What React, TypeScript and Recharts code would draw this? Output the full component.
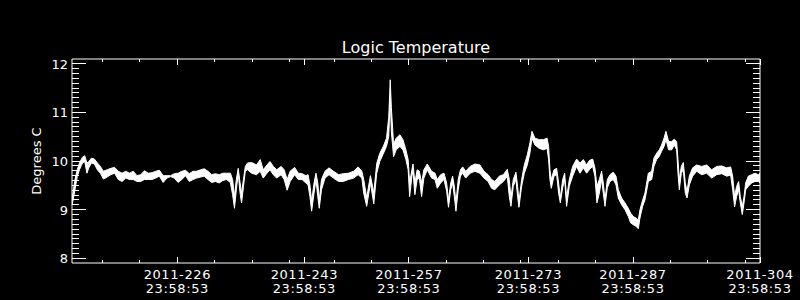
import { AreaChart, Area, XAxis, YAxis } from 'recharts'

// day of year 2011 (fractional) and the low/high envelope of the noisy trace
const DAYS = [
  211.92, 212.3, 212.6, 212.9, 213.3, 213.6, 213.9, 214.15, 214.5, 214.9,
  215.3, 215.7, 216.1, 216.6, 217.1, 217.6, 218.1, 218.6, 219.1, 219.6,
  220.1, 220.6, 221.1, 221.6, 222.1, 222.6, 223.1, 223.6, 224.1, 224.6,
  225.1, 225.6, 226.1, 226.6, 227.1, 227.6, 228.1, 228.6, 229.1, 229.6,
  230.1, 230.6, 231.1, 231.6, 232.1, 232.6, 233.1, 233.4, 233.65, 233.9,
  234.15, 234.4, 234.6, 234.85, 235.1, 235.4, 235.95, 236.6, 237.1, 237.5,
  238.0, 238.4, 238.85, 239.3, 239.9, 240.3, 240.7, 241.1, 241.7, 242.2,
  242.7, 243.2, 243.5, 243.75, 243.98, 244.3, 244.56, 244.8, 245.0, 245.3,
  245.77, 246.3, 246.9, 247.6, 248.2, 248.9, 249.6, 250.2, 250.7, 250.95,
  251.35, 251.85, 252.3, 252.69, 253.1, 253.6, 254.0, 254.3, 254.5, 254.65,
  254.95, 255.3, 255.8, 256.2, 256.6, 256.9, 257.1, 257.4, 257.55, 257.8,
  258.1, 258.4, 258.7, 259.0, 259.46, 260.04, 260.5, 260.8, 261.25, 261.7,
  262.05, 262.3, 262.6, 262.85, 263.08, 263.3, 263.6, 263.9, 264.2, 264.6,
  265.2, 265.84, 266.5, 267.05, 267.6, 268.07, 268.5, 269.1, 269.64, 270.17,
  270.44, 270.66, 270.97, 271.33, 271.55, 271.73, 272.09, 272.45, 272.85, 273.2,
  273.47, 273.87, 274.45, 274.99, 275.5, 275.7, 275.88, 276.06, 276.42, 276.78,
  277.04, 277.27, 277.58, 277.85, 278.11, 278.47, 278.92, 279.45, 279.9, 280.35,
  280.79, 281.15, 281.6, 281.9, 282.17, 282.49, 282.8, 283.02, 283.25, 283.56,
  283.92, 284.36, 284.72, 285.03, 285.48, 285.93, 286.37, 286.68, 287.04, 287.4,
  287.71, 287.93, 288.29, 288.6, 289.05, 289.5, 289.8, 290.16, 290.52, 290.83,
  291.15, 291.41, 291.77, 292.17, 292.53, 292.84, 293.02, 293.2, 293.47, 293.73,
  294.0, 294.23, 294.54, 294.98, 295.52, 296.19, 296.86, 297.53, 298.2, 298.87,
  299.54, 300.07, 300.34, 300.6, 300.87, 301.14, 301.36, 301.63, 301.86, 302.08,
  302.44, 302.88, 303.33, 303.77, 304.0,
]

const LO = [
  9.10, 9.41, 9.68, 9.82, 9.96, 9.99, 9.75, 9.86, 9.96, 9.94,
  9.82, 9.75, 9.63, 9.67, 9.72, 9.75, 9.62, 9.58, 9.65, 9.62,
  9.62, 9.58, 9.58, 9.62, 9.62, 9.62, 9.65, 9.69, 9.56, 9.65,
  9.68, 9.65, 9.56, 9.62, 9.70, 9.58, 9.62, 9.65, 9.67, 9.69,
  9.62, 9.56, 9.58, 9.55, 9.60, 9.62, 9.56, 9.31, 9.03, 9.41,
  9.75, 9.34, 9.14, 9.47, 9.79, 9.82, 9.75, 9.72, 9.79, 9.65,
  9.75, 9.82, 9.72, 9.65, 9.72, 9.62, 9.40, 9.58, 9.72, 9.62,
  9.62, 9.55, 9.51, 9.27, 8.97, 9.34, 9.62, 9.27, 9.03, 9.41,
  9.65, 9.72, 9.65, 9.58, 9.58, 9.62, 9.65, 9.72, 9.65, 9.34,
  9.07, 9.55, 9.12, 9.75, 9.99, 10.16, 10.30, 10.50, 11.30, 10.60,
  10.09, 10.23, 10.30, 10.23, 10.03, 9.82, 9.27, 9.69, 9.79, 9.31,
  9.62, 9.65, 9.27, 9.65, 9.82, 9.65, 9.62, 9.44, 9.55, 9.62,
  9.38, 9.05, 9.41, 9.55, 9.27, 8.97, 9.41, 9.69, 9.75, 9.65,
  9.75, 9.79, 9.75, 9.65, 9.58, 9.44, 9.41, 9.51, 9.58, 9.68,
  9.27, 9.07, 9.48, 9.62, 9.27, 9.05, 9.48, 9.75, 9.92, 10.16,
  10.47, 10.33, 10.26, 10.23, 10.26, 10.03, 9.62, 9.44, 9.69, 9.72,
  9.34, 9.14, 9.45, 9.62, 9.07, 9.48, 9.69, 9.89, 9.75, 9.86,
  9.75, 9.82, 9.89, 9.69, 9.14, 9.34, 9.62, 9.34, 9.07, 9.45,
  9.58, 9.62, 9.51, 9.24, 9.10, 9.00, 8.86, 8.73, 8.69, 8.66,
  8.61, 8.83, 9.07, 9.20, 9.58, 9.62, 9.89, 10.03, 10.10, 10.20,
  10.30, 10.44, 10.23, 10.23, 10.33, 10.23, 9.75, 9.41, 9.75, 9.82,
  9.34, 9.24, 9.51, 9.69, 9.79, 9.72, 9.75, 9.65, 9.72, 9.74,
  9.69, 9.71, 9.41, 9.06, 9.27, 9.41, 9.14, 8.90, 9.14, 9.41,
  9.48, 9.55, 9.58, 9.58, 9.55,
]

const HI = [
  9.22, 9.62, 9.82, 9.96, 10.08, 10.11, 9.96, 9.99, 10.06, 10.04,
  9.96, 9.89, 9.79, 9.82, 9.85, 9.87, 9.79, 9.75, 9.79, 9.75,
  9.79, 9.70, 9.72, 9.80, 9.75, 9.76, 9.79, 9.81, 9.70, 9.70,
  9.70, 9.74, 9.75, 9.79, 9.81, 9.74, 9.79, 9.79, 9.82, 9.84,
  9.79, 9.72, 9.74, 9.72, 9.75, 9.75, 9.75, 9.62, 9.27, 9.62,
  9.85, 9.55, 9.34, 9.62, 9.89, 9.96, 9.97, 9.92, 10.03, 9.82,
  9.92, 9.99, 9.89, 9.82, 9.89, 9.82, 9.62, 9.79, 9.87, 9.75,
  9.74, 9.70, 9.72, 9.51, 9.17, 9.55, 9.75, 9.55, 9.20, 9.62,
  9.79, 9.86, 9.79, 9.72, 9.74, 9.75, 9.79, 9.88, 9.79, 9.62,
  9.25, 9.70, 9.35, 9.95, 10.16, 10.31, 10.47, 10.90, 11.67, 11.10,
  10.35, 10.47, 10.54, 10.44, 10.23, 10.03, 9.55, 9.82, 9.94, 9.55,
  9.82, 9.79, 9.55, 9.82, 9.94, 9.79, 9.75, 9.62, 9.72, 9.75,
  9.55, 9.20, 9.55, 9.69, 9.48, 9.14, 9.62, 9.82, 9.88, 9.79,
  9.89, 9.94, 9.92, 9.79, 9.72, 9.62, 9.58, 9.69, 9.72, 9.83,
  9.62, 9.24, 9.62, 9.77, 9.48, 9.17, 9.62, 9.92, 10.13, 10.37,
  10.61, 10.47, 10.44, 10.44, 10.47, 10.30, 9.82, 9.62, 9.82, 9.85,
  9.55, 9.24, 9.62, 9.75, 9.24, 9.62, 9.89, 10.04, 9.96, 10.03,
  9.92, 10.01, 10.04, 9.86, 9.48, 9.62, 9.79, 9.55, 9.20, 9.62,
  9.72, 9.77, 9.69, 9.41, 9.24, 9.14, 9.03, 8.93, 8.86, 8.83,
  8.79, 9.00, 9.20, 9.34, 9.75, 9.79, 10.06, 10.16, 10.23, 10.33,
  10.47, 10.61, 10.40, 10.40, 10.45, 10.40, 10.03, 9.62, 9.89, 9.97,
  9.55, 9.38, 9.69, 9.86, 9.92, 9.89, 9.92, 9.82, 9.89, 9.90,
  9.86, 9.88, 9.69, 9.27, 9.48, 9.58, 9.27, 9.07, 9.27, 9.55,
  9.69, 9.72, 9.75, 9.72, 9.75,
]

const MAJOR_DAYS = [226, 243, 257, 273, 287, 304]
const MINOR_DAYS = [216, 221, 231, 236, 241, 247, 252, 262, 267, 272, 277, 282, 292, 297, 302]
const TICK_TIME = '23:58:53'
const Y_MAJOR = [8, 9, 10, 11, 12]

const data = DAYS.map((day, i) => ({ day, range: [LO[i], HI[i]] }))
const xTicks = [...MINOR_DAYS, ...MAJOR_DAYS].sort((a, b) => a - b)
const yTicks = Array.from({ length: 41 }, (_, i) => Math.round(80 + i) / 10)

const X_DOMAIN = [211.9, 304]
const Y_DOMAIN = [7.905, 12.097]
const FONT = '"DejaVu Sans", sans-serif'
const WHITE = '#ffffff'

function BottomTick({ x, y, payload }: any) {
  const major = MAJOR_DAYS.includes(payload.value)
  return (
    <g>
      <line x1={x} x2={x} y1={y} y2={y - (major ? 6 : 3)} stroke={WHITE} shapeRendering="crispEdges" />
      {major && (
        <text x={x} y={y + 16} textAnchor="middle" fill={WHITE} fontSize={13} fontFamily={FONT} letterSpacing={0.6}>
          <tspan x={x}>{`2011-${payload.value}`}</tspan>
          <tspan x={x} dy={14}>{TICK_TIME}</tspan>
        </text>
      )}
    </g>
  )
}

function TopTick({ x, y, payload }: any) {
  const major = MAJOR_DAYS.includes(payload.value)
  return <line x1={x} x2={x} y1={y} y2={y + (major ? 6 : 3)} stroke={WHITE} shapeRendering="crispEdges" />
}

function LeftTick({ x, y, payload }: any) {
  const major = Y_MAJOR.includes(payload.value)
  return (
    <g>
      <line x1={x} x2={x + (major ? 14 : 7)} y1={y} y2={y} stroke={WHITE} shapeRendering="crispEdges" />
      {major && (
        <text x={x - 4} y={y + 5} textAnchor="end" fill={WHITE} fontSize={13} fontFamily={FONT}>
          {payload.value}
        </text>
      )}
    </g>
  )
}

function RightTick({ x, y, payload }: any) {
  const major = Y_MAJOR.includes(payload.value)
  return <line x1={x} x2={x - (major ? 14 : 7)} y1={y} y2={y} stroke={WHITE} shapeRendering="crispEdges" />
}

export default function App() {
  return (
    <div style={{ position: 'absolute', left: 0, top: 0, width: 800, height: 300, background: '#000' }}>
      <AreaChart width={800} height={300} data={data} margin={{ top: 39, right: 0, bottom: 0, left: 0 }}>
        <XAxis
          dataKey="day"
          type="number"
          domain={X_DOMAIN}
          allowDataOverflow
          ticks={xTicks}
          interval={0}
          tick={BottomTick}
          tickLine={false}
          tickSize={0}
          tickMargin={0}
          axisLine={{ stroke: WHITE }}
          height={37}
        />
        <XAxis
          xAxisId="top"
          orientation="top"
          dataKey="day"
          type="number"
          domain={X_DOMAIN}
          allowDataOverflow
          ticks={xTicks}
          interval={0}
          tick={TopTick}
          tickLine={false}
          tickSize={0}
          tickMargin={0}
          axisLine={{ stroke: WHITE }}
          height={20}
          label={{ value: 'Logic Temperature', position: 'insideBottom', offset: 6, fill: WHITE, fontSize: 16, fontFamily: FONT }}
        />
        <YAxis
          type="number"
          domain={Y_DOMAIN}
          allowDataOverflow
          ticks={yTicks}
          interval={0}
          tick={LeftTick}
          tickLine={false}
          tickSize={0}
          tickMargin={0}
          axisLine={{ stroke: WHITE }}
          width={72}
          label={{ value: 'Degrees C', angle: -90, position: 'center', fill: WHITE, fontSize: 13, fontFamily: FONT }}
        />
        <YAxis
          yAxisId="right"
          orientation="right"
          type="number"
          domain={Y_DOMAIN}
          allowDataOverflow
          ticks={yTicks}
          interval={0}
          tick={RightTick}
          tickLine={false}
          tickSize={0}
          tickMargin={0}
          axisLine={{ stroke: WHITE }}
          width={40}
        />
        <Area
          type="linear"
          dataKey="range"
          stroke={WHITE}
          strokeWidth={1}
          fill={WHITE}
          fillOpacity={1}
          dot={false}
          activeDot={false}
          isAnimationActive={false}
        />
      </AreaChart>
    </div>
  )
}
